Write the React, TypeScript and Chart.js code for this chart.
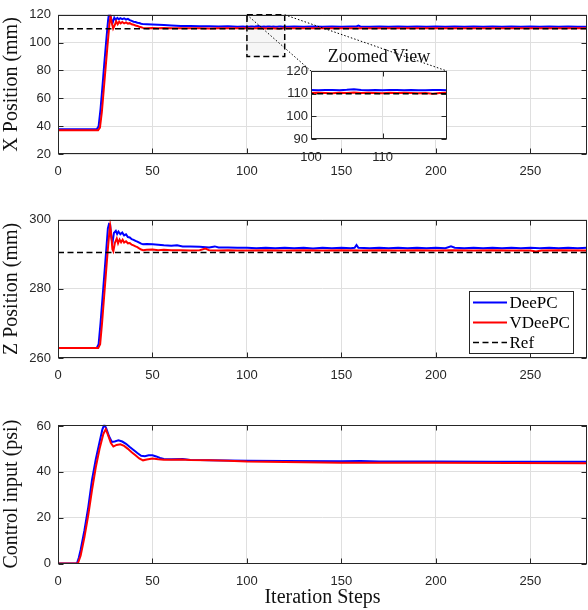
import React, { useEffect, useRef } from "react";
import { Chart, registerables } from "chart.js";

Chart.register(...registerables);

type Pt = [number, number];

// ---------- axis ranges & ticks ----------
const stepRange: Pt = [0, 280];
const stepTicks = [0, 50, 100, 150, 200, 250];
const xPosRange: Pt = [20, 120];
const xPosTicks = [20, 40, 60, 80, 100, 120];
const zPosRange: Pt = [260, 300];
const zPosTicks = [260, 280, 300];
const uRange: Pt = [0, 60.5];
const uTicks = [0, 20, 40, 60];
const insetStepRange: Pt = [100, 119];
const insetStepTicks = [100, 110];
const insetYRange: Pt = [90, 120];
const insetYTicks = [90, 100, 110, 120];
const zoomBoxSteps: Pt = [100, 120];
const zoomBoxValues: Pt = [90, 120];

const seriesNames = ["DeePC", "VDeePC", "Ref"];
const axisLabels = ["X Position (mm)", "Z Position (mm)", "Control input (psi)"];
const xAxisLabel = "Iteration Steps";
const insetTitle = "Zoomed View";

// ---------- X position (mm) ----------
const xDeePC: Pt[] = [
  [0, 37.8], [20.5, 37.8], [21.5, 40], [22.5, 52], [23.5, 68], [24.5, 85], [25.5, 101], [26.5, 116],
  [27, 121], [27.8, 119], [28.8, 113.8], [29.8, 117.9], [30.6, 116.4], [31.4, 117.8], [32.2, 116.8],
  [33, 117.6], [34, 116.9], [35, 117.5], [36, 116.6], [37, 117.1], [38, 116.2], [39, 115.6], [40, 115.0],
  [41, 114.8], [42, 114.3], [43, 114.1], [44, 113.6], [45, 113.3], [47, 113.2], [50, 113.1], [53, 112.9],
  [56, 112.6], [60, 112.3], [65, 112.0], [70, 111.9], [75, 111.7], [80, 111.8], [85, 111.6], [90, 111.7],
  [95, 111.5], [98, 111.6], [99, 111.5], [100, 111.6], [101, 111.5], [102, 111.6], [103, 111.6],
  [104, 111.5], [105, 111.7], [106, 112.0], [107, 111.6], [108, 111.5], [109, 111.6], [110, 111.5],
  [111, 111.6], [112, 111.6], [113, 111.5], [114, 111.6], [115, 111.5], [116, 111.5], [117, 111.6],
  [118, 111.6], [119, 111.5], [120, 111.6], [121, 111.5], [125, 111.6], [130, 111.5], [135, 111.6],
  [140, 111.5], [145, 111.6], [150, 111.5], [155, 111.6], [158, 111.6], [159, 112.3], [160, 111.6],
  [165, 111.5], [170, 111.6], [175, 111.5], [180, 111.6], [185, 111.5], [190, 111.6], [195, 111.5],
  [200, 111.6], [205, 111.5], [210, 111.6], [215, 111.5], [220, 111.6], [225, 111.5], [230, 111.6],
  [235, 111.5], [240, 111.6], [245, 111.5], [250, 111.6], [255, 111.5], [260, 111.6], [265, 111.5],
  [270, 111.6], [275, 111.5], [280, 111.5],
];
const xVDeePC: Pt[] = [
  [0, 37.0], [21.2, 37.0], [22.2, 39], [23.2, 50], [24.2, 66], [25.2, 82], [26.2, 98], [27.2, 113],
  [27.8, 119.3], [28.5, 114], [29.2, 110.2], [30, 112.5], [30.8, 115.4], [31.6, 113.3], [32.4, 115],
  [33.2, 113.8], [34, 114.8], [35, 113.9], [36, 114.5], [37, 113.7], [38, 114.0], [39, 113.2], [40, 112.9],
  [41, 112.3], [42, 112.0], [43, 111.4], [44, 111.0], [45, 110.6], [47, 110.4], [50, 110.5], [53, 110.3],
  [56, 110.5], [60, 110.3], [65, 110.4], [70, 110.3], [75, 110.4], [80, 110.2], [85, 110.4], [90, 110.3],
  [95, 110.4], [98, 110.3], [99, 110.4], [100, 110.3], [101, 110.4], [102, 110.3], [103, 110.2],
  [104, 110.4], [105, 110.3], [106, 110.5], [107, 110.3], [108, 110.4], [109, 110.3], [110, 110.2],
  [111, 110.4], [112, 110.3], [113, 110.4], [114, 110.3], [115, 110.2], [116, 110.3], [117, 110.0],
  [118, 110.3], [119, 110.4], [120, 110.3], [121, 110.4], [125, 110.3], [130, 110.4], [135, 110.3],
  [140, 110.4], [145, 110.3], [150, 110.4], [155, 110.3], [160, 110.4], [165, 110.3], [170, 110.4],
  [175, 110.3], [180, 110.4], [185, 110.3], [190, 110.4], [195, 110.3], [200, 110.4], [205, 110.3],
  [210, 110.4], [215, 110.3], [220, 110.4], [225, 110.3], [230, 110.4], [235, 110.3], [240, 110.4],
  [245, 110.3], [250, 110.4], [255, 110.3], [260, 110.4], [265, 110.3], [270, 110.4], [275, 110.3],
  [280, 110.3],
];
const xRef: Pt[] = [[0, 110], [280, 110]];

// ---------- Z position (mm) ----------
const zDeePC: Pt[] = [
  [0, 262.9], [20.5, 262.9], [21.5, 264], [22.5, 270], [23.5, 277], [24.5, 284], [25.5, 291],
  [26.4, 297.5], [27, 298.8], [27.6, 298.6], [28.2, 295], [28.8, 293.2], [29.6, 296.2], [30.6, 296.8],
  [31.3, 295.9], [32, 296.6], [33, 295.8], [34, 296.3], [35, 295.5], [36, 295.8], [37, 295.0],
  [38, 294.9], [39, 294.4], [40, 294.2], [41, 293.9], [42, 293.7], [43, 293.4], [44, 293.1], [45, 292.9],
  [47, 293.0], [50, 292.9], [53, 292.8], [56, 292.6], [60, 292.5], [63, 292.6], [66, 292.3], [70, 292.3],
  [75, 292.2], [80, 292.0], [83, 292.3], [85, 292.0], [90, 292.0], [95, 291.9], [100, 291.9],
  [105, 291.8], [110, 291.9], [115, 291.8], [120, 291.9], [125, 291.8], [130, 291.9], [135, 291.7],
  [140, 291.9], [145, 291.8], [150, 291.9], [155, 291.8], [157, 291.9], [158, 292.7], [159, 291.9],
  [165, 291.8], [170, 291.9], [175, 291.8], [180, 291.9], [185, 291.8], [190, 291.9], [195, 291.8],
  [200, 291.9], [205, 291.8], [208, 292.3], [210, 291.9], [215, 291.8], [220, 291.9], [225, 291.8],
  [230, 291.9], [235, 291.8], [240, 291.9], [245, 291.8], [250, 291.9], [255, 291.8], [260, 291.9],
  [265, 291.8], [270, 291.9], [275, 291.8], [280, 291.9],
];
const zVDeePC: Pt[] = [
  [0, 262.9], [21.3, 262.9], [22.3, 264], [23.3, 270], [24.3, 277], [25.3, 284], [26.3, 291],
  [27.2, 296.5], [27.6, 298.3], [28.2, 295.5], [28.8, 291.5], [29.3, 290.9], [30.1, 293.3],
  [31.1, 294.6], [31.8, 293.2], [32.6, 294.3], [33.4, 293.5], [34.2, 294.2], [35, 293.4], [36, 293.8],
  [37, 293.2], [38, 293.3], [39, 292.8], [40, 292.6], [41, 292.3], [42, 292.1], [43, 291.7], [44, 291.4],
  [45, 291.2], [47, 291.3], [50, 291.4], [53, 291.2], [56, 291.3], [60, 291.2], [65, 291.2], [70, 291.1],
  [75, 291.2], [78, 291.7], [80, 291.2], [85, 291.1], [90, 291.2], [95, 291.1], [100, 291.1],
  [110, 291.2], [120, 291.1], [130, 291.2], [140, 291.1], [150, 291.2], [160, 291.1], [170, 291.2],
  [180, 291.1], [190, 291.2], [200, 291.1], [210, 291.2], [220, 291.1], [230, 291.2], [240, 291.1],
  [250, 291.1], [253, 290.8], [256, 291.1], [265, 291.2], [280, 291.1],
];
const zRef: Pt[] = [[0, 290.5], [280, 290.5]];

// ---------- Control input (psi) ----------
const uDeePC: Pt[] = [
  [0, 0], [10, 0], [11, 2.5], [12, 6], [14, 14.5], [16, 24.5], [18, 36.5], [20, 45.5], [22, 53],
  [23.5, 58.5], [24.5, 60.6], [25.5, 59], [27, 55.5], [28.5, 53], [30, 53.2], [32, 53.7], [34, 53.2],
  [36, 52.2], [38, 50.8], [40, 49.5], [42, 48.2], [44, 47], [46, 46.8], [48, 47.2], [50, 47.2],
  [52, 46.7], [54, 46], [56, 45.6], [60, 45.5], [66, 45.6], [70, 45.2], [80, 45.0], [90, 44.9],
  [100, 44.8], [120, 44.7], [150, 44.6], [160, 44.7], [170, 44.5], [200, 44.5], [230, 44.4],
  [260, 44.4], [280, 44.4],
];
const uVDeePC: Pt[] = [
  [0, 0], [10.5, 0], [12, 3.5], [14, 11.5], [16, 21], [18, 32], [20, 42], [22, 50], [24, 56.5],
  [25.3, 58.6], [26.5, 56], [28, 52.5], [29.3, 51], [31, 51.7], [33, 52], [35, 51.3], [37, 50],
  [39, 48.5], [41, 47.2], [43, 45.8], [45, 45], [47, 45.4], [50, 45.8], [53, 45.5], [56, 45.3],
  [60, 45.3], [65, 45.4], [70, 45.2], [80, 45], [90, 44.8], [100, 44.5], [120, 44.3], [150, 44.0],
  [200, 43.9], [240, 43.8], [280, 43.7],
];

// ---------- styling ----------
const BLUE = "#0000ff";
const RED = "#ff0000";
const AXIS = "#262626";
const GRID = "#dfdfdf";
const tickFont = { family: "'Liberation Sans', Arial, sans-serif", size: 13 };
const labelFont = { family: "'Liberation Serif', 'Times New Roman', serif", size: 20 };
const legendFontCss = "17px 'Liberation Serif', 'Times New Roman', serif";
const W = 588;

const toXY = (pts: Pt[]) => pts.map(([x, y]) => ({ x, y }));

function series(label: string, pts: Pt[], kind: "blue" | "red" | "ref", order: number) {
  const base: any = {
    label,
    data: toXY(pts),
    pointRadius: 0,
    tension: 0,
    fill: false,
    order,
  };
  if (kind === "blue") return { ...base, borderColor: BLUE, borderWidth: 2 };
  if (kind === "red") return { ...base, borderColor: RED, borderWidth: 2 };
  return { ...base, borderColor: "#000000", borderWidth: 1.5, borderDash: [6, 3.5] };
}

function axis(range: Pt, ticks: number[], o: { width?: number; height?: number; pad: number; title?: string; titlePad?: number }) {
  return {
    type: "linear",
    min: range[0],
    max: range[1],
    afterBuildTicks: (s: any) => {
      s.ticks = ticks.map((v) => ({ value: v }));
    },
    afterFit: (s: any) => {
      if (o.width != null) s.width = o.width;
      if (o.height != null) s.height = o.height;
    },
    grid: { color: GRID, lineWidth: 1, drawTicks: false },
    border: { display: false },
    ticks: { padding: o.pad, font: tickFont, color: AXIS, maxRotation: 0, autoSkip: false },
    title: o.title
      ? { display: true, text: o.title, font: labelFont, color: "#111", padding: { top: o.titlePad ?? 0, bottom: o.titlePad ?? 0 } }
      : { display: false },
  };
}

const boxPlugin = {
  id: "matlabBox",
  afterDraw(chart: any) {
    const { ctx, chartArea: a, scales } = chart;
    const L = Math.round(a.left) + 0.5;
    const R = Math.round(a.right) - 0.5;
    const T = Math.round(a.top) + 0.5;
    const B = Math.round(a.bottom) - 0.5;
    const tl = 5;
    ctx.save();
    ctx.setLineDash([]);
    ctx.strokeStyle = AXIS;
    ctx.lineWidth = 1;
    ctx.strokeRect(L, T, R - L, B - T);
    ctx.beginPath();
    scales.x.ticks.forEach((t: any) => {
      const px = Math.round(scales.x.getPixelForValue(t.value)) + 0.5;
      ctx.moveTo(px, B);
      ctx.lineTo(px, B - tl);
      ctx.moveTo(px, T);
      ctx.lineTo(px, T + tl);
    });
    scales.y.ticks.forEach((t: any) => {
      const py = Math.round(scales.y.getPixelForValue(t.value)) + 0.5;
      ctx.moveTo(L, py);
      ctx.lineTo(L + tl, py);
      ctx.moveTo(R, py);
      ctx.lineTo(R - tl, py);
    });
    ctx.stroke();
    ctx.restore();
  },
};

const zoomBoxPlugin = {
  id: "zoomBox",
  afterDatasetsDraw(chart: any) {
    const { ctx, scales } = chart;
    const x0 = scales.x.getPixelForValue(zoomBoxSteps[0]);
    const x1 = scales.x.getPixelForValue(zoomBoxSteps[1]);
    const y0 = scales.y.getPixelForValue(zoomBoxValues[1]);
    const y1 = scales.y.getPixelForValue(zoomBoxValues[0]);
    ctx.save();
    ctx.fillStyle = "rgba(0,0,0,0.035)";
    ctx.fillRect(x0, y0, x1 - x0, y1 - y0);
    ctx.strokeStyle = "#000";
    ctx.lineWidth = 1.5;
    ctx.setLineDash([6, 3.5]);
    ctx.strokeRect(x0, y0, x1 - x0, y1 - y0);
    ctx.restore();
  },
};

const legendPlugin = {
  id: "boxLegend",
  afterDraw(chart: any) {
    const { ctx, chartArea: a } = chart;
    const w = 104;
    const h = 62;
    const rowH = 20;
    const x0 = Math.round(a.right - 14 - w) + 0.5;
    const y0 = Math.round(a.bottom - 5 - h) + 0.5;
    ctx.save();
    ctx.fillStyle = "#fff";
    ctx.fillRect(x0, y0, w, h);
    ctx.strokeStyle = AXIS;
    ctx.lineWidth = 1;
    ctx.setLineDash([]);
    ctx.strokeRect(x0, y0, w, h);
    chart.data.datasets.forEach((ds: any, i: number) => {
      const y = y0 + 11 + i * rowH;
      ctx.strokeStyle = ds.borderColor;
      ctx.lineWidth = ds.borderWidth;
      ctx.setLineDash(ds.borderDash || []);
      ctx.beginPath();
      ctx.moveTo(x0 + 3.5, y);
      ctx.lineTo(x0 + 37.5, y);
      ctx.stroke();
      ctx.setLineDash([]);
      ctx.fillStyle = "#000";
      ctx.font = legendFontCss;
      ctx.textBaseline = "middle";
      ctx.textAlign = "left";
      ctx.fillText(ds.label, x0 + 40, y + 1);
    });
    ctx.restore();
  },
};

const baseOptions = {
  responsive: false,
  animation: false as const,
  events: [] as any[],
  plugins: { legend: { display: false }, tooltip: { enabled: false }, title: { display: false } },
};

export default function App() {
  const topRef = useRef<HTMLCanvasElement>(null);
  const insetRef = useRef<HTMLCanvasElement>(null);
  const midRef = useRef<HTMLCanvasElement>(null);
  const botRef = useRef<HTMLCanvasElement>(null);

  useEffect(() => {
    const charts: Chart[] = [];

    const top = new Chart(topRef.current!, {
      type: "line",
      data: {
        datasets: [
          series(seriesNames[0], xDeePC, "blue", 3),
          series(seriesNames[1], xVDeePC, "red", 2),
          series(seriesNames[2], xRef, "ref", 1),
        ],
      },
      options: {
        ...baseOptions,
        layout: { padding: { top: 6, right: 1, left: 0, bottom: 0 } },
        scales: {
          x: axis(stepRange, stepTicks, { height: 28, pad: 10 }),
          y: axis(xPosRange, xPosTicks, { width: 58, pad: 7, title: axisLabels[0] }),
        },
      } as any,
      plugins: [zoomBoxPlugin, boxPlugin],
    });
    charts.push(top);

    const connectorPlugin = {
      id: "connectors",
      beforeDraw(chart: any) {
        const { ctx, chartArea: a } = chart;
        ctx.save();
        ctx.fillStyle = "#fff";
        ctx.fillRect(a.left, a.top, a.right - a.left, a.bottom - a.top);
        ctx.restore();
      },
      afterDraw(chart: any) {
        const { ctx, chartArea: a } = chart;
        const sx = top.scales.x;
        const sy = top.scales.y;
        ctx.save();
        ctx.strokeStyle = "#000";
        ctx.lineWidth = 1;
        ctx.setLineDash([1.5, 2]);
        ctx.beginPath();
        ctx.moveTo(sx.getPixelForValue(zoomBoxSteps[0]), sy.getPixelForValue(zoomBoxValues[1]));
        ctx.lineTo(a.left, a.top);
        ctx.moveTo(sx.getPixelForValue(zoomBoxSteps[1]), sy.getPixelForValue(zoomBoxValues[1]));
        ctx.lineTo(a.right, a.top);
        ctx.stroke();
        ctx.restore();
      },
    };

    const inset = new Chart(insetRef.current!, {
      type: "line",
      data: {
        datasets: [
          series(seriesNames[0], xDeePC, "blue", 3),
          series(seriesNames[1], xVDeePC, "red", 2),
          series(seriesNames[2], xRef, "ref", 1),
        ],
      },
      options: {
        ...baseOptions,
        plugins: {
          ...baseOptions.plugins,
          title: {
            display: true,
            text: insetTitle,
            fullSize: false,
            color: "#111",
            font: { family: "'Liberation Serif', 'Times New Roman', serif", size: 18, weight: "normal" },
            padding: { top: 0, bottom: 3 },
          },
        },
        layout: { padding: { top: 46.4, right: 141, left: 281, bottom: 0 } },
        scales: {
          x: axis(insetStepRange, insetStepTicks, { height: 43, pad: 10.5 }),
          y: axis(insetYRange, insetYTicks, { width: 30, pad: 3 }),
        },
      } as any,
      plugins: [connectorPlugin, boxPlugin],
    });
    charts.push(inset);

    const mid = new Chart(midRef.current!, {
      type: "line",
      data: {
        datasets: [
          series(seriesNames[0], zDeePC, "blue", 3),
          series(seriesNames[1], zVDeePC, "red", 2),
          series(seriesNames[2], zRef, "ref", 1),
        ],
      },
      options: {
        ...baseOptions,
        layout: { padding: { top: 7, right: 1, left: 0, bottom: 0 } },
        scales: {
          x: axis(stepRange, stepTicks, { height: 28, pad: 10 }),
          y: axis(zPosRange, zPosTicks, { width: 58, pad: 7, title: axisLabels[1] }),
        },
      } as any,
      plugins: [boxPlugin, legendPlugin],
    });
    charts.push(mid);

    const bot = new Chart(botRef.current!, {
      type: "line",
      data: {
        datasets: [
          series(seriesNames[0], uDeePC, "blue", 2),
          series(seriesNames[1], uVDeePC, "red", 1),
        ],
      },
      options: {
        ...baseOptions,
        layout: { padding: { top: 7, right: 1, left: 0, bottom: 0 } },
        scales: {
          x: axis(stepRange, stepTicks, { height: 46.5, pad: 10, title: xAxisLabel }),
          y: axis(uRange, uTicks, { width: 58, pad: 7, title: axisLabels[2] }),
        },
      } as any,
      plugins: [boxPlugin],
    });
    charts.push(bot);

    return () => charts.forEach((c) => c.destroy());
  }, []);

  const cv = (top: number, h: number): React.CSSProperties => ({
    position: "absolute",
    left: 0,
    top,
    width: W,
    height: h,
  });

  return (
    <div style={{ position: "absolute", left: 0, top: 0, width: W, height: 610, background: "#fff" }}>
      <canvas ref={topRef} width={W} height={182} style={cv(0, 182)} />
      <canvas ref={insetRef} width={W} height={182} style={cv(0, 182)} />
      <canvas ref={midRef} width={W} height={181} style={cv(205, 181)} />
      <canvas ref={botRef} width={W} height={200} style={cv(410, 200)} />
    </div>
  );
}
